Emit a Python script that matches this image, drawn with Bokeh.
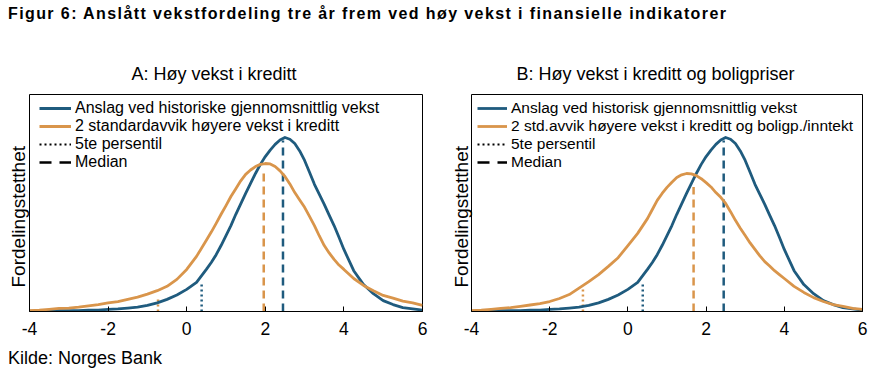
from bokeh.plotting import figure
from bokeh.models import Range1d, Legend, LegendItem, Div, FixedTicker, ColumnDataSource, Title
from bokeh.layouts import column, row
from bokeh.embed import file_html
from bokeh.resources import INLINE

# ---------------- data ----------------
x_vals = [-4.0, -3.75, -3.5, -3.25, -3.0, -2.75, -2.5, -2.25, -2.0, -1.75,
          -1.5, -1.25, -1.0, -0.75, -0.5, -0.25, 0.0, 0.25,
          0.5, 0.625, 0.75, 0.875, 1.0, 1.125, 1.25, 1.375, 1.5, 1.625,
          1.75, 1.875, 2.0, 2.125, 2.25, 2.375, 2.5, 2.625, 2.75, 2.875,
          3.0, 3.125, 3.25, 3.375, 3.5, 3.625, 3.75, 3.875, 4.0,
          4.25, 4.5, 4.75, 5.0, 5.25, 5.5, 5.75, 6.0]

# historical average growth (same in both panels)
dens_hist = [0.001, 0.001, 0.001, 0.002, 0.002, 0.002, 0.003, 0.003, 0.005, 0.006,
             0.008, 0.010, 0.014, 0.020, 0.028, 0.038, 0.051, 0.067,
             0.097, 0.113, 0.131, 0.152, 0.175, 0.198, 0.224, 0.248, 0.272, 0.295,
             0.318, 0.339, 0.357, 0.372, 0.385, 0.395, 0.401, 0.397, 0.387, 0.370,
             0.348, 0.321, 0.293, 0.270, 0.247, 0.222, 0.198, 0.171, 0.143,
             0.094, 0.062, 0.041, 0.025, 0.016, 0.009, 0.006, 0.003]

# panel A: 2 std higher credit growth
dens_credit = [0.002, 0.003, 0.005, 0.007, 0.008, 0.010, 0.013, 0.016, 0.020, 0.023,
               0.028, 0.033, 0.040, 0.048, 0.058, 0.074, 0.097, 0.127,
               0.164, 0.183, 0.203, 0.224, 0.244, 0.265, 0.283, 0.301, 0.316, 0.326,
               0.334, 0.339, 0.341, 0.340, 0.334, 0.324, 0.311, 0.294, 0.274, 0.257,
               0.240, 0.219, 0.198, 0.174, 0.152, 0.135, 0.120, 0.107, 0.097,
               0.076, 0.060, 0.048, 0.037, 0.031, 0.024, 0.020, 0.014]

# panel B: 2 std higher credit and house price growth
dens_credit_house = [0.002, 0.003, 0.005, 0.007, 0.009, 0.012, 0.015, 0.018, 0.023, 0.030,
                     0.039, 0.054, 0.069, 0.085, 0.104, 0.124, 0.152, 0.180,
                     0.214, 0.235, 0.256, 0.272, 0.286, 0.298, 0.309, 0.315, 0.318, 0.317,
                     0.313, 0.306, 0.297, 0.287, 0.274, 0.263, 0.249, 0.230, 0.210, 0.192,
                     0.175, 0.158, 0.143, 0.128, 0.115, 0.105, 0.094, 0.085, 0.076,
                     0.058, 0.044, 0.032, 0.023, 0.016, 0.012, 0.007, 0.005]

# 5th percentile and median: [historical, high]
p5_A = [0.38, -0.73]
p5_A_top = [0.067, 0.034]
med_A = [2.45, 1.96]
med_A_top = [0.394, 0.329]

p5_B = [0.38, -1.15]
p5_B_top = [0.067, 0.056]
med_B = [2.45, 1.68]
med_B_top = [0.394, 0.287]

x_ticks = [-4, -2, 0, 2, 4, 6]
x_tick_labels = {-4: "-4", -2: "-2", 0: "0", 2: "2", 4: "4", 6: "6"}

BLUE = "#1f5b7e"
ORANGE = "#d9954b"
FONT = "Liberation Sans"


def make_panel(subtitle, sub_offset, hist_label, high_label, dens_high, p5, p5_top,
               med, med_top, width, left_border, frame_w, legend_x, legend_font,
               glyph_w, ylab_standoff):
    p = figure(width=width, height=300, x_range=Range1d(-4, 6), y_range=Range1d(0, 0.5),
               output_backend="svg", toolbar_location=None,
               min_border_left=left_border, min_border_right=width - left_border - frame_w,
               min_border_top=46, min_border_bottom=37)
    p.xgrid.visible = False
    p.ygrid.visible = False
    p.yaxis.visible = False
    p.outline_line_color = "black"
    p.outline_line_width = 1
    p.outline_line_alpha = 1
    p.background_fill_color = "white"
    p.border_fill_color = "white"

    p.title.text = subtitle
    p.title.align = "left"
    p.title.offset = sub_offset
    p.title.standoff = 22
    p.title.text_font = FONT
    p.title.text_font_size = "18px"
    p.title.text_font_style = "normal"
    p.title.text_color = "black"

    p.add_layout(Title(text="Fordelingstetthet", align="left", offset=24,
                       standoff=ylab_standoff, text_font=FONT, text_font_size="19px",
                       text_font_style="normal", text_color="black"), "left")

    ax = p.xaxis[0]
    ax.ticker = FixedTicker(ticks=x_ticks)
    ax.major_label_overrides = x_tick_labels
    ax.major_tick_in = 5
    ax.major_tick_out = 0
    ax.minor_tick_line_color = None
    ax.axis_line_color = "black"
    ax.major_tick_line_color = "black"
    ax.major_label_text_font = FONT
    ax.major_label_text_font_size = "17.5px"
    ax.major_label_text_color = "black"
    ax.major_label_standoff = 10

    # vertical marker lines
    p.segment(x0=[p5[0]], y0=[0], x1=[p5[0]], y1=[p5_top[0]], line_color=BLUE,
              line_width=2.5, line_dash="2 3")
    p.segment(x0=[p5[1]], y0=[0], x1=[p5[1]], y1=[p5_top[1]], line_color=ORANGE,
              line_width=2.5, line_dash="2 3")
    p.segment(x0=[med[0]], y0=[0], x1=[med[0]], y1=[med_top[0]], line_color=BLUE,
              line_width=2.5, line_dash="8 5")
    p.segment(x0=[med[1]], y0=[0], x1=[med[1]], y1=[med_top[1]], line_color=ORANGE,
              line_width=2.5, line_dash="8 5")

    src = ColumnDataSource(dict(x=x_vals, hist=dens_hist, high=dens_high))
    r_hist = p.line("x", "hist", source=src, line_color=BLUE, line_width=2.8,
                    line_join="round")
    r_high = p.line("x", "high", source=src, line_color=ORANGE, line_width=2.8,
                    line_join="round")
    # legend-only renderers, placed outside the visible ranges
    r_dot = p.line(x=[-20, -19], y=[-1, -1], line_color="black", line_width=2,
                   line_dash="2 3")
    r_dash = p.line(x=[-20, -19], y=[-1, -1], line_color="black", line_width=2.5,
                    line_dash="12 8")

    legend = Legend(items=[LegendItem(label=hist_label, renderers=[r_hist]),
                           LegendItem(label=high_label, renderers=[r_high]),
                           LegendItem(label="5te persentil", renderers=[r_dot]),
                           LegendItem(label="Median", renderers=[r_dash])],
                    location=(legend_x, 140), padding=0, margin=0, spacing=0,
                    glyph_width=glyph_w, glyph_height=16, label_height=16,
                    label_standoff=4, border_line_color=None, background_fill_alpha=0,
                    label_text_font=FONT, label_text_font_size=legend_font,
                    label_text_color="black")
    p.add_layout(legend)
    return p


pA = make_panel("A: Høy vekst i kreditt", 102,
                "Anslag ved historiske gjennomsnittlig vekst",
                "2 standardavvik høyere vekst i kreditt",
                dens_credit, p5_A, p5_A_top, med_A, med_A_top, 448, 29, 393,
                10, "16px", 32, 2)
pB = make_panel("B: Høy vekst i kreditt og boligpriser", 45,
                "Anslag ved historisk gjennomsnittlig vekst",
                "2 std.avvik høyere vekst i kreditt og boligp./inntekt",
                dens_credit_house, p5_B, p5_B_top, med_B, med_B_top, 420, 20, 394,
                6, "15.5px", 30, 0)

title = Div(text=("<div style=\"padding:7px 0 0 8px; font-family:'Liberation Sans'; "
                  "font-size:16px; font-weight:bold; line-height:13px; color:black; "
                  "letter-spacing:1.4px; white-space:nowrap;\">"
                  "Figur 6: Anslått vekstfordeling tre år frem ved høy vekst i finansielle indikatorer"
                  "</div>"),
            width=868, height=48, margin=0)
source = Div(text=("<div style=\"padding:0 0 0 8px; font-family:'Liberation Sans'; "
                   "font-size:18px; line-height:20px; color:black; white-space:nowrap;\">"
                   "Kilde: Norges Bank</div>"),
             width=868, height=28, margin=0)

layout = column(title, row(pA, pB), source)

open("out.html", "w").write(file_html(layout, INLINE))
